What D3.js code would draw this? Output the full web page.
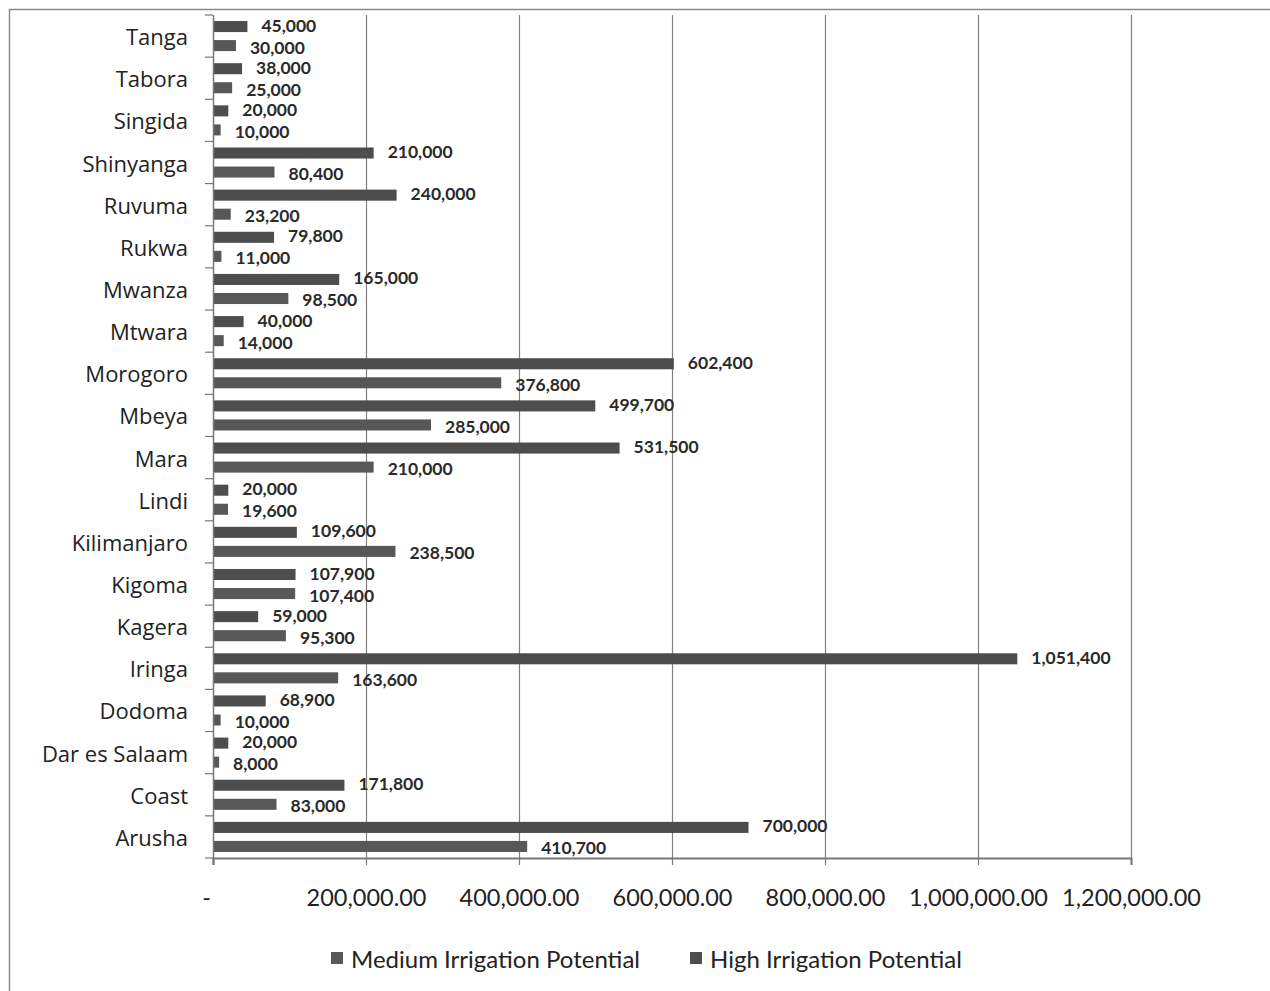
<!DOCTYPE html>
<html>
<head>
<meta charset="utf-8">
<script src="https://cdn.jsdelivr.net/npm/d3@7"></script>
<style>
  html, body { margin: 0; padding: 0; background: #fff; }
  svg { display: block; }
</style>
</head>
<body>
<svg id="chart" width="1270" height="991"></svg>
<script>
// Regions, listed bottom-to-top as they appear on the category axis
const regions = ["Arusha", "Coast", "Dar es Salaam", "Dodoma", "Iringa", "Kagera", "Kigoma",
  "Kilimanjaro", "Lindi", "Mara", "Mbeya", "Morogoro", "Mtwara", "Mwanza", "Rukwa",
  "Ruvuma", "Shinyanga", "Singida", "Tabora", "Tanga"];

// Irrigation potential (hectares)
const mediumPotential = [410700, 83000, 8000, 10000, 163600, 95300, 107400,
  238500, 19600, 210000, 285000, 376800, 14000, 98500, 11000,
  23200, 80400, 10000, 25000, 30000];
const highPotential = [700000, 171800, 20000, 68900, 1051400, 59000, 107900,
  109600, 20000, 531500, 499700, 602400, 40000, 165000, 79800,
  240000, 210000, 20000, 38000, 45000];

const seriesNames = ["Medium Irrigation Potential", "High Irrigation Potential"];
const xTicks = [0, 200000, 400000, 600000, 800000, 1000000, 1200000];

const series = [
  { name: seriesNames[0], key: "medium", values: mediumPotential, color: "#575757", labelShift: 1.5 },
  { name: seriesNames[1], key: "high", values: highPotential, color: "#4d4d4d", labelShift: -1.5 }
];

const rows = regions.map((r, i) => ({ region: r, medium: mediumPotential[i], high: highPotential[i] }));

const svg = d3.select("#chart");
const plot = { left: 213, right: 1131, top: 15, bottom: 858 };

// outer frame
svg.append("rect")
  .attr("x", 9.5).attr("y", 9.5)
  .attr("width", 1300).attr("height", 1100)
  .attr("fill", "none").attr("stroke", "#8a8a8a").attr("stroke-width", 1.5);

const x = d3.scaleLinear().domain([0, 1200000]).range([plot.left, plot.right]);
const y = d3.scaleBand()
  .domain(regions.slice().reverse())
  .range([plot.top, plot.bottom])
  .paddingInner(0.286).paddingOuter(0.143);
// within a group the high series sits above the medium series
const yInner = d3.scaleBand()
  .domain(["high", "medium"])
  .range([0, y.bandwidth()])
  .paddingInner(0.42);

// vertical gridlines
svg.append("g")
  .selectAll("line")
  .data(xTicks.filter(d => d > 0))
  .join("line")
  .attr("x1", d => Math.round(x(d)) + 0.5).attr("x2", d => Math.round(x(d)) + 0.5)
  .attr("y1", plot.top).attr("y2", plot.bottom)
  .attr("stroke", "#808080").attr("stroke-width", 1.2);

// bars
const groups = svg.append("g")
  .selectAll("g")
  .data(rows)
  .join("g")
  .attr("transform", d => `translate(0,${y(d.region)})`);

series.forEach(s => {
  groups.append("rect")
    .attr("x", x(0))
    .attr("y", yInner(s.key))
    .attr("width", d => x(d[s.key]) - x(0))
    .attr("height", yInner.bandwidth())
    .attr("fill", s.color);

  groups.append("text")
    .attr("x", d => x(d[s.key]) + 14)
    .attr("y", yInner(s.key) + yInner.bandwidth() / 2 + s.labelShift)
    .attr("dominant-baseline", "central")
    .attr("font-family", "Lato, 'Open Sans', sans-serif")
    .attr("font-size", 17.5)
    .attr("font-weight", 700)
    .attr("fill", "#2a2a2a")
    .text(d => d3.format(",")(d[s.key]));
});

// category axis
const yAxis = svg.append("g")
  .attr("transform", `translate(${plot.left},0)`);
yAxis.append("line")
  .attr("x1", 0.5).attr("x2", 0.5)
  .attr("y1", plot.top).attr("y2", plot.bottom + 7)
  .attr("stroke", "#777").attr("stroke-width", 1.5);
yAxis.selectAll("line.tick")
  .data(d3.range(regions.length + 1))
  .join("line")
  .attr("class", "tick")
  .attr("x1", -8).attr("x2", 0)
  .attr("y1", i => plot.top + i * y.step())
  .attr("y2", i => plot.top + i * y.step())
  .attr("stroke", "#777").attr("stroke-width", 1.2);
yAxis.selectAll("text")
  .data(regions)
  .join("text")
  .attr("x", -25)
  .attr("y", d => y(d) + y.bandwidth() / 2)
  .attr("text-anchor", "end")
  .attr("dominant-baseline", "central")
  .attr("font-family", "'Open Sans', Lato, sans-serif")
  .attr("font-size", 22)
  .attr("fill", "#222")
  .text(d => d);

// value axis
const fmt = d3.format(",.2f");
const xAxis = svg.append("g")
  .attr("transform", `translate(0,${plot.bottom})`)
  .call(d3.axisBottom(x)
    .tickValues(xTicks)
    .tickSize(7)
    .tickPadding(24)
    .tickFormat(d => d === 0 ? "-" : fmt(d)));
xAxis.select(".domain").attr("stroke", "#777").attr("stroke-width", 2);
xAxis.selectAll(".tick line").attr("stroke", "#777").attr("stroke-width", 1.2);
xAxis.selectAll(".tick text")
  .attr("font-family", "Lato, 'Open Sans', sans-serif")
  .attr("font-size", 23.5)
  .attr("fill", "#222")
  .attr("dx", d => d === 0 ? -7 : 0);

// legend
const legendPos = [331, 690];
const legend = svg.append("g")
  .selectAll("g")
  .data(series)
  .join("g")
  .attr("transform", (d, i) => `translate(${legendPos[i]},952)`);
legend.append("rect")
  .attr("width", 12).attr("height", 12)
  .attr("fill", d => d.color);
legend.append("text")
  .attr("x", 20).attr("y", 6)
  .attr("dominant-baseline", "central")
  .attr("font-family", "Lato, 'Open Sans', sans-serif")
  .attr("font-size", 24)
  .attr("fill", "#222")
  .text(d => d.name);
</script>
</body>
</html>
